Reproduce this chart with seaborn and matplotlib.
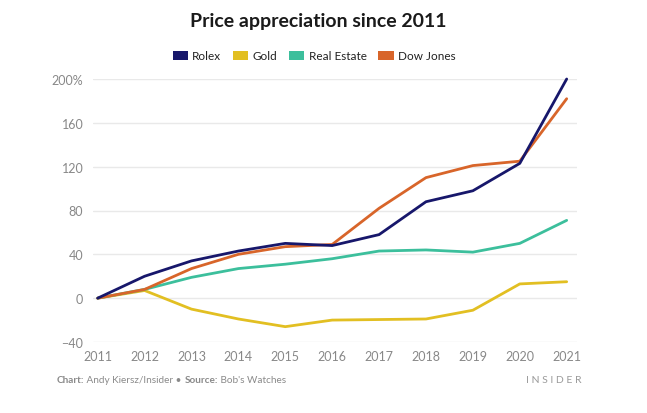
import matplotlib
matplotlib.use("Agg")
import matplotlib.pyplot as plt
import seaborn as sns
import pandas as pd
from matplotlib.patches import Patch

years = [2011, 2012, 2013, 2014, 2015, 2016, 2017, 2018, 2019, 2020, 2021]
rolex = [0, 20, 34, 43, 50, 48, 58, 88, 98, 123, 200]
gold = [0, 7, -10, -19, -26, -20, -19.5, -19, -11, 13, 15]
real_estate = [0, 8, 19, 27, 31, 36, 43, 44, 42, 50, 71]
dow_jones = [0, 8, 27, 40, 47, 49, 82, 110, 121, 125, 182]
series_names = ["Rolex", "Gold", "Real Estate", "Dow Jones"]
colors = ["#17176b", "#e2bf22", "#3cbf9c", "#d8652a"]
y_ticks = [-40, 0, 40, 80, 120, 160, 200]
y_labels = ["\u221240", "0", "40", "80", "120", "160", "200%"]

frames = []
for name, vals in zip(series_names, [rolex, gold, real_estate, dow_jones]):
    frames.append(pd.DataFrame({"year": years, "value": vals, "series": name}))
df = pd.concat(frames, ignore_index=True)

sns.set_style("white")
plt.rcParams["font.family"] = ["Lato", "DejaVu Sans"]

W, H = 647, 414
fig = plt.figure(figsize=(W / 100, H / 100), dpi=100)
ax = fig.add_axes([93 / W, 1 - 343 / H, (577 - 93) / W, (343 - 80) / H])

draw_order = ["Gold", "Real Estate", "Dow Jones", "Rolex"]
sns.lineplot(data=df, x="year", y="value", hue="series", hue_order=series_names,
             palette=colors, linewidth=2.0, ax=ax, legend=False)
lines = ax.get_lines()
for i, line in enumerate(lines[:4]):
    line.set_clip_on(False)
    line.set_zorder(3 + draw_order.index(series_names[i]))

ax.set_xlim(2010.9, 2021.22)
ax.set_ylim(-40, 200)
ax.set_yticks(y_ticks)
ax.set_yticklabels(y_labels)
ax.set_xticks(years)
ax.set_xticklabels([str(y) for y in years])
ax.grid(axis="y", color="#e9e9e9", linewidth=1.0)
ax.grid(axis="x", visible=False)
for s in ax.spines.values():
    s.set_visible(False)
ax.tick_params(axis="both", length=0, labelsize=9, colors="#888888")
ax.tick_params(axis="y", pad=7)
ax.tick_params(axis="x", pad=6)
ax.set_xlabel("")
ax.set_ylabel("")

fig.text(318 / W, 1 - 22 / H, "Price appreciation since 2011", ha="center", va="center",
         fontsize=14, fontweight="bold", color="#1a1a1a")

handles = [Patch(facecolor=c, edgecolor="none") for c in colors]
fig.legend(handles, series_names, loc="center", bbox_to_anchor=(314 / W, 1 - 57 / H),
           ncol=4, frameon=False, fontsize=8.5, handlelength=1.3, handleheight=0.8,
           handletextpad=0.35, columnspacing=1.0, labelcolor="#222222")

fig.canvas.draw()
renderer = fig.canvas.get_renderer()
parts = [("Chart:", "bold"), (" Andy Kiersz/Insider \u2022 ", "normal"),
         ("Source:", "bold"), (" Bob's Watches", "normal")]
x = 57
for txt, wt in parts:
    t = fig.text(x / W, 1 - 381 / H, txt, ha="left", va="center", fontsize=7.2,
                 fontweight=wt, color="#8a8a8a")
    bb = t.get_window_extent(renderer=renderer)
    x += bb.width

fig.text(581 / W, 1 - 381 / H, "I N S I D E R", ha="right", va="center", fontsize=7.5,
         color="#9a9a9a")

fig.savefig("out.png", dpi=100, facecolor="white")
